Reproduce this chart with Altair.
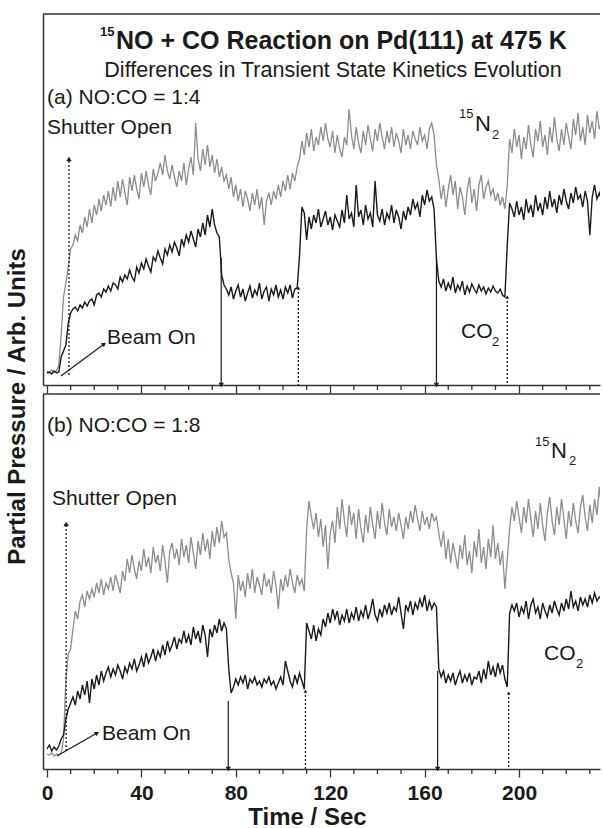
import altair as alt
import pandas as pd

FONT = "Liberation Sans"
INK = "#1a1a1a"
GREY = "#8c8c8c"
FRAME = "#333333"

# ---------------- data (time in s, signal in arb. units) ----------------
co2_a = [
    12, 13, 11, 14, 12, 13, 28, 34, 40, 62,
    72, 76, 78, 74, 80, 77, 83, 79, 84, 86,
    80, 90, 92, 88, 96, 93, 99, 94, 102, 100,
    96, 108, 103, 110, 106, 115, 108, 104, 118, 112,
    122, 116, 126, 119, 113, 128, 124, 134, 127, 121,
    136, 130, 140, 133, 143, 137, 129, 146, 139, 150,
    143, 154, 146, 138, 156, 148, 162, 150, 170, 158,
    176, 160, 152, 148, 110, 100, 96, 90, 98, 86,
    94, 100, 88, 96, 84, 92, 99, 87, 95, 90,
    102, 86, 94, 98, 84, 96, 90, 100, 88, 95,
    86, 98, 92, 100, 87, 96, 97, 130, 178, 172,
    145, 168, 156, 170, 162, 176, 158, 166, 174, 160,
    168, 155, 170, 164, 158, 175, 162, 190, 166, 172,
    158, 200, 168, 175, 160, 180, 166, 172, 158, 204,
    170, 164, 176, 160, 172, 166, 180, 162, 175, 168,
    156, 174, 165, 178, 170, 186, 176, 182, 168, 190,
    180, 195, 184, 188, 176, 126, 104, 98, 106, 94,
    102, 96, 108, 92, 100, 95, 104, 90, 99, 93,
    101, 96, 92, 100, 94, 98, 91, 97, 93, 99,
    94, 92, 96, 90, 88, 140, 182, 176, 168, 184,
    170, 178, 165, 186, 172, 180, 168, 190, 174, 182,
    170, 188, 176, 194, 178, 186, 172, 190, 180, 196,
    184, 176, 192, 182, 198, 186, 190, 178, 194, 184,
    150, 188, 200, 186, 192, 184,
]
n2_a = [
    14, 12, 15, 13, 14, 20, 50, 88, 102, 118,
    136, 140, 150, 144, 160, 152, 168, 158, 176, 162,
    180, 170, 186, 174, 190, 180, 194, 178, 198, 184,
    204, 188, 206, 192, 180, 208, 194, 210, 196, 186,
    212, 198, 214, 200, 190, 216, 204, 212, 222, 210,
    230, 214, 206, 220, 208, 198, 214, 204, 222, 200,
    216, 228, 210, 262, 226, 214, 236, 220, 240, 218,
    230, 212, 226, 208, 218, 204, 210, 196, 208, 188,
    200, 184, 196, 178, 194, 186, 174, 192, 180, 196,
    176, 188, 160, 184, 192, 180, 194, 186, 200, 188,
    204, 194, 210, 196, 212, 204, 218, 226, 244, 230,
    252, 238, 256, 234, 248, 240, 258, 244, 262, 246,
    238, 254, 232, 250, 236, 228, 248, 240, 276, 250,
    236, 258, 242, 232, 254, 240, 260, 246, 234, 256,
    244, 262, 248, 236, 254, 242, 258, 238, 252, 244,
    232, 256, 240, 250, 236, 254, 246, 240, 258, 244,
    250, 236, 256, 262, 250, 220, 206, 186, 200, 178,
    196, 210, 190, 204, 176, 198, 188, 170, 194, 208,
    182, 196, 174, 200, 210, 186, 198, 204, 190, 196,
    184, 192, 180, 188, 176, 200, 246, 232, 256, 238,
    250, 226, 248, 236, 260, 240, 228, 256, 244, 264,
    238, 250, 230, 258, 242, 268, 246, 234, 256, 240,
    262, 248, 236, 266, 250, 272, 244, 258, 240, 270,
    252, 264, 246, 274, 256, 262,
]
co2_b = [
    20, 24, 18, 22, 19, 23, 30, 34, 50, 60,
    66, 72, 64, 78, 70, 84, 74, 88, 66, 90,
    80, 94, 84, 98, 88, 96, 102, 92, 100, 94,
    104, 98, 90, 102, 96, 106, 100, 110, 98, 104,
    112, 102, 116, 106, 112, 120, 108, 118, 112, 124,
    114, 128, 118, 124, 132, 120, 130, 126, 138, 126,
    134, 124, 142, 130, 138, 126, 144, 134, 112, 140,
    132, 144, 136, 150, 138, 146, 140, 100, 76, 82,
    90, 84, 92, 86, 94, 80, 90, 86, 92, 84,
    88, 82, 90, 86, 92, 84, 88, 80, 86, 92,
    84, 108, 98, 88, 82, 94, 86, 96, 88, 80,
    146, 138, 130, 144, 128, 140, 134, 150, 142, 156,
    146, 160, 150, 158, 144, 154, 148, 160, 146, 156,
    150, 162, 148, 158, 152, 164, 150, 158, 170, 154,
    148, 160, 152, 164, 156, 166, 154, 162, 158, 172,
    156, 140, 164, 158, 168, 154, 166, 160, 170, 162,
    174, 158, 168, 160, 166, 162, 100, 92, 98, 86,
    94, 88, 96, 84, 92, 98, 86, 94, 88, 96,
    84, 92, 90, 98, 86, 100, 90, 108, 94, 102,
    92, 106, 96, 104, 90, 82, 156, 164, 158, 166,
    152, 162, 156, 168, 150, 164, 170, 156, 162, 150,
    166, 158, 152, 164, 156, 168, 160, 154, 166, 158,
    170, 160, 178, 162, 168, 158, 172, 164, 170, 162,
    174, 166, 176, 168, 172, 170,
]
n2_b = [
    15, 14, 16, 13, 15, 14, 16, 30, 90, 115,
    120, 140, 158, 150, 168, 174, 162, 178, 170, 180,
    172, 186, 176, 190, 174, 186, 180, 192, 178, 194,
    186, 176, 198, 188, 210, 196, 214, 200, 190, 208,
    198, 220, 202, 212, 196, 222, 206, 214, 198, 224,
    208, 186, 218, 226, 210, 220, 204, 230, 212, 224,
    206, 232, 216, 200, 228, 214, 236, 218, 230, 210,
    238, 222, 242, 226, 248, 232, 236, 210, 196, 186,
    150, 194, 178, 188, 172, 196, 180, 200, 176, 192,
    184, 174, 196, 182, 190, 176, 198, 184, 160, 190,
    178, 194, 182, 200, 186, 176, 194, 184, 190, 178,
    240, 268, 252, 240, 256, 232, 250, 222, 244, 200,
    236, 248, 226, 262, 240, 270, 248, 232, 264, 244,
    256, 230, 260, 240, 226, 254, 236, 262, 244, 230,
    258, 240, 266, 246, 234, 260, 242, 252, 238, 256,
    244, 230, 252, 240, 258, 246, 264, 250, 238, 258,
    244, 252, 240, 256, 248, 252, 236, 222, 238, 210,
    230, 206, 226, 214, 200, 224, 210, 234, 204, 218,
    196, 228, 212, 240, 206, 222, 200, 230, 212, 244,
    210, 226, 204, 218, 180, 210, 240, 262, 248, 268,
    252, 236, 262, 246, 270, 250, 232, 258, 240, 266,
    244, 228, 256, 272, 248, 234, 262, 244, 270, 250,
    230, 258, 242, 266, 248, 236, 262, 274, 252, 238,
    264, 246, 270, 254, 282, 260,
]

# marker lines: (time, from, to)
solid_a = {"t": [73.8, 165.0], "v": [127, 126], "v2": [0, 0]}
dotted_a = {"t": [9.3, 106.5, 195.0], "v": [10, 97, 88], "v2": [226, 0, 0]}
solid_b = {"t": [76.8, 165.5], "v": [68, 98], "v2": [0, 0]}
dotted_b = {"t": [8.1, 109.5, 195.6], "v": [18, 78, 76], "v2": [245, 0, 0]}
beam_a = {"t": [5.9], "v": [9], "t2": [24.2], "v2": [41]}
beam_b = {"t": [4.2], "v": [13], "t2": [21.2], "v2": [36]}

X_DOMAIN = [-1.7, 234.3]
W = 557
H_A, H_B = 371, 375
TOP_A, TOP_B = 13, 393
LEFT = 44
MAJOR = [0, 40, 80, 120, 160, 200]
MINOR = [10, 20, 30, 50, 60, 70, 90, 100, 110, 130, 140, 150, 170, 180, 190, 210, 220, 230]


def text(x_img, y_img, top, txt, size, bold=False, align="left"):
    return alt.Chart(pd.DataFrame({"label": [txt]})).mark_text(
        align=align, baseline="middle", font=FONT, fontSize=size,
        fontWeight="bold" if bold else "normal", color=INK,
    ).encode(x=alt.value(x_img - LEFT), y=alt.value(y_img - top), text="label:N")


def panel(co2, n2, height, solid, dotted, beam, beam_angle, texts, bottom):
    xs = alt.Scale(domain=X_DOMAIN, nice=False, zero=False)
    ys = alt.Scale(domain=[0, height], nice=False, zero=False)
    if bottom:
        xaxis = alt.Axis(values=MAJOR, tickSize=8, tickWidth=1.3, tickColor=FRAME,
                         domainColor=FRAME, domainWidth=1.5, grid=False,
                         labelFont=FONT, labelFontSize=21, labelFontWeight="bold",
                         labelColor=INK, labelPadding=5, labelFlush=False,
                         titleFont=FONT, titleFontSize=24, titleFontWeight="bold",
                         titleColor=INK, titleX=264, titleY=55,
                         titleBaseline="alphabetic", titleAlign="center")
        xtitle = "Time / Sec"
        yaxis = alt.Axis(labels=False, ticks=False, grid=False, domainColor=FRAME,
                         domainWidth=1.5, titleFont=FONT, titleFontSize=24,
                         titleFontWeight="bold", titleColor=INK, titleAngle=270,
                         titleX=-26, titleY=12, titleAlign="center",
                         titleBaseline="middle")
        ytitle = "Partial Pressure / Arb. Units"
    else:
        xaxis = alt.Axis(values=MAJOR, tickSize=8, tickWidth=1.3, tickColor=FRAME,
                         domainColor=FRAME, domainWidth=1.5, grid=False, labels=False)
        xtitle = ""
        yaxis = alt.Axis(labels=False, ticks=False, grid=False, domainColor=FRAME,
                         domainWidth=1.5)
        ytitle = ""

    def X(field):
        return alt.X(field, scale=xs, axis=xaxis, title=xtitle)

    def Y(field):
        return alt.Y(field, scale=ys, axis=yaxis, title=ytitle)

    df_n2 = pd.DataFrame({"t": list(range(len(n2))), "v": n2})
    df_co2 = pd.DataFrame({"t": list(range(len(co2))), "v": co2})

    grey = alt.Chart(df_n2).mark_line(color=GREY, strokeWidth=1.3, clip=True).encode(
        x=X("t:Q"), y=Y("v:Q"))
    black = alt.Chart(df_co2).mark_line(color=INK, strokeWidth=1.4, clip=True).encode(
        x=X("t:Q"), y=Y("v:Q"))

    sdf = pd.DataFrame(solid)
    ddf = pd.DataFrame(dotted)
    solid_r = alt.Chart(sdf).mark_rule(color=INK, strokeWidth=1.2).encode(
        x=X("t:Q"), y=Y("v:Q"), y2="v2:Q")
    dotted_r = alt.Chart(ddf).mark_rule(color=INK, strokeWidth=1.3, strokeDash=[2, 2]).encode(
        x=X("t:Q"), y=Y("v:Q"), y2="v2:Q")
    down_heads = alt.Chart(sdf).mark_point(shape="triangle-down", filled=True, size=28,
                                           color=INK, opacity=1).encode(
        x=X("t:Q"), y=Y("v2:Q"))
    up_heads = alt.Chart(ddf.iloc[:1]).mark_point(shape="triangle-up", filled=True, size=30,
                                                  color=INK, opacity=1).encode(
        x=X("t:Q"), y=Y("v2:Q"))
    small_heads = alt.Chart(ddf.iloc[1:]).mark_point(shape="triangle-up", filled=True, size=14,
                                                     color=INK, opacity=1).encode(
        x=X("t:Q"), y=Y("v:Q"))
    bdf = pd.DataFrame(beam)
    beam_r = alt.Chart(bdf).mark_rule(color=INK, strokeWidth=1.2).encode(
        x=X("t:Q"), x2="t2:Q", y=Y("v:Q"), y2="v2:Q")
    beam_h = alt.Chart(bdf).mark_point(shape="triangle-up", angle=beam_angle, filled=True,
                                       size=26, color=INK, opacity=1).encode(
        x=X("t2:Q"), y=Y("v2:Q"))

    minor = alt.Chart(pd.DataFrame({"t": MINOR})).mark_rule(color=FRAME, strokeWidth=1.3).encode(
        x=X("t:Q"), y=alt.value(height), y2=alt.value(height + 5))
    top_line = alt.Chart(pd.DataFrame({"k": [0]})).mark_rule(color=FRAME, strokeWidth=1.5).encode(
        x=alt.value(0), x2=alt.value(W), y=alt.value(0))

    layers = [grey, black, solid_r, dotted_r, down_heads, up_heads, small_heads,
              beam_r, beam_h, minor, top_line] + texts
    return alt.layer(*layers).properties(width=W, height=height)


texts_a = [
    text(101, 31, TOP_A, "15", 13, bold=True),
    text(117, 40, TOP_A, "NO + CO Reaction on Pd(111) at 475 K", 25, bold=True),
    text(334, 70, TOP_A, "Differences in Transient State Kinetics Evolution", 21.5, align="center"),
    text(48, 97, TOP_A, "(a) NO:CO = 1:4", 21),
    text(48, 127, TOP_A, "Shutter Open", 21),
    text(460, 113, TOP_A, "15", 13),
    text(476, 123, TOP_A, "N", 22),
    text(493, 134, TOP_A, "2", 13),
    text(108, 337, TOP_A, "Beam On", 21),
    text(462, 331, TOP_A, "CO", 21),
    text(493, 341, TOP_A, "2", 13),
]
texts_b = [
    text(48, 425, TOP_B, "(b) NO:CO = 1:8", 21),
    text(53, 498, TOP_B, "Shutter Open", 21),
    text(536, 441, TOP_B, "15", 13),
    text(552, 450, TOP_B, "N", 22),
    text(570, 460, TOP_B, "2", 13),
    text(545, 653, TOP_B, "CO", 21),
    text(577, 663, TOP_B, "2", 13),
    text(103, 733, TOP_B, "Beam On", 21),
]

pa = panel(co2_a, n2_a, H_A, solid_a, dotted_a, beam_a, 53, texts_a, bottom=False)
pb = panel(co2_b, n2_b, H_B, solid_b, dotted_b, beam_b, 60, texts_b, bottom=True)

chart = alt.vconcat(pa, pb, spacing=9, bounds="flush").properties(
    padding={"left": 4, "top": 13, "right": 0, "bottom": 0},
    background="white",
).configure_view(stroke=None)

chart.save("out.html", embed_options={"renderer": "svg", "actions": False})
